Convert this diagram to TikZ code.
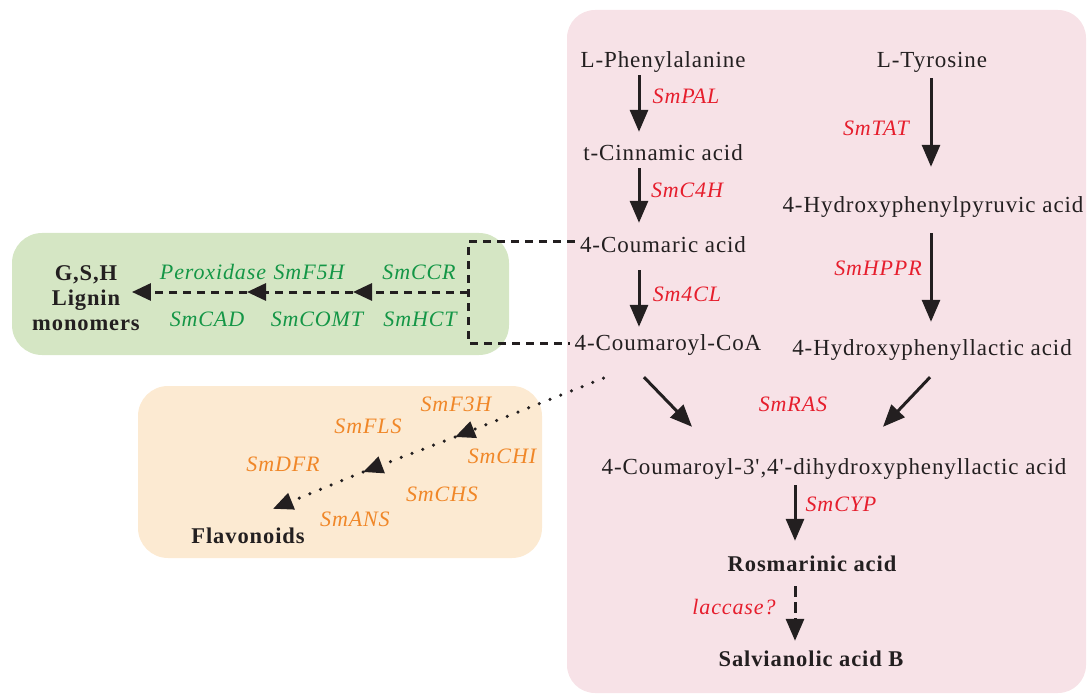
\documentclass[tikz,border=0pt]{standalone}
\usepackage{fontspec}
\setmainfont[LetterSpace=4, Ligatures=TeXOff]{Liberation Serif}
\usetikzlibrary{arrows.meta,calc}
\definecolor{pinkbg}{RGB}{247,226,231}
\definecolor{greenbg}{RGB}{213,230,196}
\definecolor{orangebg}{RGB}{252,234,210}
\definecolor{enzred}{RGB}{230,30,45}
\definecolor{enzgreen}{RGB}{20,150,70}
\definecolor{enzorange}{RGB}{240,135,40}
\definecolor{dark}{RGB}{35,31,32}
\begin{document}
\begin{tikzpicture}[x=1pt,y=-1pt,
  txt/.style={inner sep=0pt, text height=14pt, text depth=4pt, yshift=-3pt, text=dark, font=\fontsize{23}{26}\selectfont},
  btxt/.style={txt, font=\fontsize{22.5}{26}\selectfont\bfseries},
  enz/.style={txt, text=enzred, font=\fontsize{22}{26}\selectfont\itshape},
  genz/.style={enz, text=enzgreen},
  oenz/.style={enz, text=enzorange},
  arr/.style={draw=dark, line width=3pt, -{Triangle[length=22pt,width=18pt]}},
  darr/.style={arr, dash pattern=on 11pt off 5pt},
  gdash/.style={draw=dark, line width=3pt, dash pattern=on 8pt off 6pt},
  garr/.style={gdash, -{Triangle[length=19pt,width=17pt]}},
  oarr/.style={draw=dark, line width=3.5pt, line cap=round, dash pattern=on 0pt off 11.5pt, -{Triangle[length=20pt,width=17pt]}}
]
\useasboundingbox (0,0) rectangle (1087,695);
% backgrounds
\fill[pinkbg, rounded corners=28pt] (567,10) rectangle (1086,693);
\fill[greenbg, rounded corners=30pt] (12,233) rectangle (509,355);
\fill[orangebg, rounded corners=30pt] (138,386) rectangle (542,558);

% compounds
\node[txt] (phe) at (663,60) {L-Phenylalanine};
\node[txt] (tyr) at (932,60) {L-Tyrosine};
\node[txt] (cin) at (663,153) {t-Cinnamic acid};
\node[txt] (cou) at (663,245) {4-Coumaric acid};
\node[txt] (coa) at (668,342) {4-Coumaroyl-CoA};
\node[txt] (hpp) at (933,205) {4-Hydroxyphenylpyruvic acid};
\node[txt] (hpl) at (932,347) {4-Hydroxyphenyllactic acid};
\node[txt] (dih) at (834,466) {4-Coumaroyl-3',4'-dihydroxyphenyllactic acid};
\node[btxt] (ros) at (812,563) {Rosmarinic acid};
\node[btxt] (sal) at (811,658) {Salvianolic acid B};
\node[inner sep=0pt, text=dark, align=center, font=\fontsize{22.5}{25}\selectfont\bfseries] (lig) at (86,298) {G,S,H\\Lignin\\monomers};
\node[btxt] (flav) at (248,535) {Flavonoids};

% enzymes
\node[enz] (pal) at (686,96) {SmPAL};
\node[enz] (c4h) at (687,190) {SmC4H};
\node[enz] (fcl) at (687,293) {Sm4CL};
\node[enz] (tat) at (876,128) {SmTAT};
\node[enz] (hppr) at (878,267) {SmHPPR};
\node[enz] (ras) at (793,403) {SmRAS};
\node[enz] (cyp) at (841,503) {SmCYP};
\node[enz] (lac) at (734,606) {laccase?};

\node[genz] (perox) at (213,271) {Peroxidase};
\node[genz] (f5h) at (309,271) {SmF5H};
\node[genz] (ccr) at (419,271) {SmCCR};
\node[genz] (cad) at (207,318) {SmCAD};
\node[genz] (comt) at (317,318) {SmCOMT};
\node[genz] (hct) at (420,318) {SmHCT};

\node[oenz] (f3h) at (456,403) {SmF3H};
\node[oenz] (fls) at (368,425) {SmFLS};
\node[oenz] (dfr) at (283,463) {SmDFR};
\node[oenz] (chi) at (502,455) {SmCHI};
\node[oenz] (chs) at (442,493) {SmCHS};
\node[oenz] (ans) at (355,518) {SmANS};

% columns
\coordinate (cA) at (639,0);
\coordinate (cB) at (931,0);
\coordinate (cC) at (795,0);
\coordinate (vx) at (468,0);

% main arrows
\draw[arr, shorten <=3pt, shorten >=15pt] (phe.south -| cA) -- (cin.north -| cA);
\draw[arr, shorten <=3pt, shorten >=16pt] (cin.south -| cA) -- (cou.north -| cA);
\draw[arr, shorten <=13pt, shorten >=9pt] (cou.south -| cA) -- (coa.north -| cA);
\draw[arr, shorten <=6pt, shorten >=32pt] (tyr.south -| cB) -- (hpp.north -| cB);
\draw[arr, shorten <=16pt, shorten >=19pt] (hpp.south -| cB) -- (hpl.north -| cB);
\draw[arr] ($(coa.south)+(-24,23)$) -- ($(dih.north)+(-142,-33)$);
\draw[arr] ($(hpl.south)+(-2,18)$) -- ($(dih.north)+(49,-33)$);
\draw[arr, shorten <=7pt, shorten >=16pt] (dih.south -| cC) -- (ros.north -| cC);
\draw[darr, shorten <=11pt, shorten >=11pt] (ros.south -| cC) -- (sal.north -| cC);

% lignin branch
\draw[gdash] ($(cou.west)+(-5,-6)$) -- ($(cou.west -| vx)+(0,-6)$) -- ($(coa.west -| vx)+(0,-2)$) -- ($(coa.west)+(-4,-2)$);
\coordinate (gs) at (468,292);
\coordinate (g1) at (353,292);
\coordinate (g2) at (247,292);
\draw[garr] (gs) -- (g1);
\draw[garr] (g1) -- (g2);
\draw[garr] (g2) -- ($(lig.east |- g2)+(-8,0)$);

% flavonoid branch
\coordinate (o1) at (455,437);
\coordinate (o2) at (363,472);
\draw[oarr] ($(coa.south west)+(29,24)$) -- (o1);
\draw[oarr] (o1) -- (o2);
\draw[oarr] (o2) -- ($(flav.north)+(25,-20)$);
\end{tikzpicture}
\end{document}
